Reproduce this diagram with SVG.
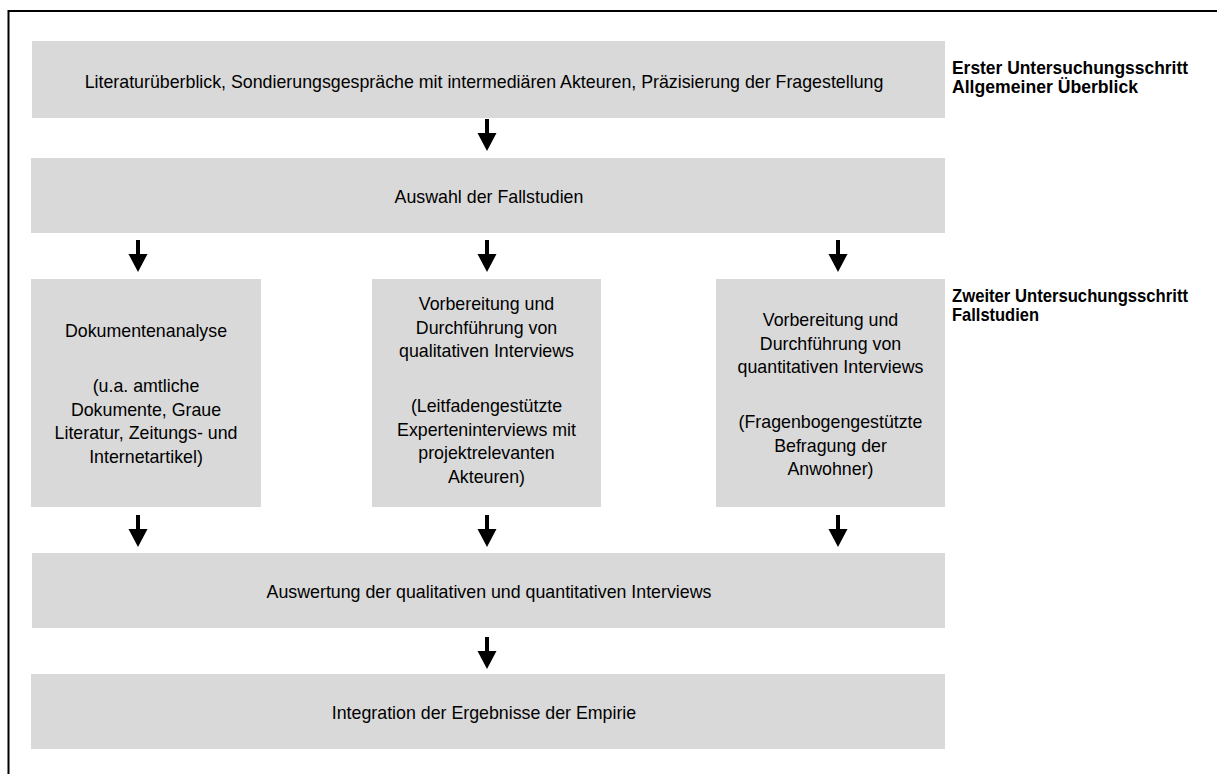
<svg xmlns="http://www.w3.org/2000/svg" width="1217" height="774" viewBox="0 0 1217 774">
<style>
.box{fill:#d9d9d9;stroke:none}
.t{font-family:"Liberation Sans",Arial,sans-serif;font-size:17.8px;fill:#000;text-anchor:middle}
.lbl{font-family:"Liberation Sans",Arial,sans-serif;font-size:18.5px;font-weight:bold;fill:#000}
.arr{fill:#000;stroke:none}
.frame{fill:none;stroke:#000;stroke-width:2}
</style>
<rect width="1217" height="774" fill="#fff"/>
<path class="frame" d="M8.5,774 V11 H1217"/>

<g id="n1">
<rect class="box" x="32" y="41" width="913" height="77"/>
<text class="t" x="484" y="88">Literaturüberblick, Sondierungsgespräche mit intermediären Akteuren, Präzisierung der Fragestellung</text>
</g>
<g id="n2">
<rect class="box" x="31" y="158" width="914" height="75"/>
<text class="t" x="489" y="203">Auswahl der Fallstudien</text>
</g>
<g id="n3">
<rect class="box" x="31" y="279" width="230" height="228"/>
<text class="t" x="146" y="337">Dokumentenanalyse</text>
<text class="t" x="146" y="392">(u.a. amtliche</text>
<text class="t" x="146" y="415.5">Dokumente, Graue</text>
<text class="t" x="146" y="439">Literatur, Zeitungs- und</text>
<text class="t" x="146" y="462.5">Internetartikel)</text>
</g>
<g id="n4">
<rect class="box" x="372" y="279" width="229" height="228"/>
<text class="t" x="486.5" y="310">Vorbereitung und</text>
<text class="t" x="486.5" y="333.5">Durchführung von</text>
<text class="t" x="486.5" y="357">qualitativen Interviews</text>
<text class="t" x="486.5" y="412">(Leitfadengestützte</text>
<text class="t" x="486.5" y="435.5">Experteninterviews mit</text>
<text class="t" x="486.5" y="459">projektrelevanten</text>
<text class="t" x="486.5" y="482.5">Akteuren)</text>
</g>
<g id="n5">
<rect class="box" x="716" y="279" width="229" height="228"/>
<text class="t" x="830.5" y="326">Vorbereitung und</text>
<text class="t" x="830.5" y="349.5">Durchführung von</text>
<text class="t" x="830.5" y="373">quantitativen Interviews</text>
<text class="t" x="830.5" y="428">(Fragenbogengestützte</text>
<text class="t" x="830.5" y="451.5">Befragung der</text>
<text class="t" x="830.5" y="475">Anwohner)</text>
</g>
<g id="n6">
<rect class="box" x="32" y="553" width="913" height="75"/>
<text class="t" x="489" y="598">Auswertung der qualitativen und quantitativen Interviews</text>
</g>
<g id="n7">
<rect class="box" x="31" y="674" width="914" height="75"/>
<text class="t" x="484" y="719">Integration der Ergebnisse der Empirie</text>
</g>
<g id="label1">
<text class="lbl" x="952" y="74" textLength="236" lengthAdjust="spacingAndGlyphs">Erster Untersuchungsschritt</text>
<text class="lbl" x="952" y="93" textLength="186" lengthAdjust="spacingAndGlyphs">Allgemeiner Überblick</text>
</g>
<g id="label2">
<text class="lbl" x="952" y="302" textLength="236" lengthAdjust="spacingAndGlyphs">Zweiter Untersuchungsschritt</text>
<text class="lbl" x="952" y="321" textLength="87" lengthAdjust="spacingAndGlyphs">Fallstudien</text>
</g>

<g id="connectors">
<path class="arr" d="M485,119 h4 v14 h7.5 l-9.5,18 l-9.5,-18 h7.5 z"/>
<path class="arr" d="M136,240 h4 v14 h7.5 l-9.5,18 l-9.5,-18 h7.5 z"/>
<path class="arr" d="M485,240 h4 v14 h7.5 l-9.5,18 l-9.5,-18 h7.5 z"/>
<path class="arr" d="M836,240 h4 v14 h7.5 l-9.5,18 l-9.5,-18 h7.5 z"/>
<path class="arr" d="M136,515 h4 v14 h7.5 l-9.5,18 l-9.5,-18 h7.5 z"/>
<path class="arr" d="M485,515 h4 v14 h7.5 l-9.5,18 l-9.5,-18 h7.5 z"/>
<path class="arr" d="M836,515 h4 v14 h7.5 l-9.5,18 l-9.5,-18 h7.5 z"/>
<path class="arr" d="M485,637 h4 v14 h7.5 l-9.5,18 l-9.5,-18 h7.5 z"/>
</g>
</svg>
